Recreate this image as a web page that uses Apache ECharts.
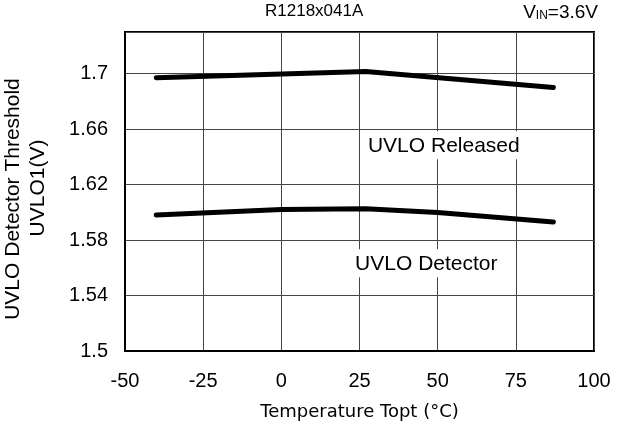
<!DOCTYPE html>
<html>
<head>
<meta charset="utf-8">
<script src="https://cdn.jsdelivr.net/npm/echarts@6/dist/echarts.min.js"></script>
<style>
  html, body { margin: 0; padding: 0; background: #fff; }
  #chart { width: 624px; height: 427px; }
</style>
</head>
<body>
<div id="chart"></div>
<script>
// Threshold voltage vs. ambient temperature
const releasedTemps = [-40, 27, 87];
const releasedValues = [1.697, 1.7015, 1.690];
const detectorTemps = [-40, 0, 27, 50, 87];
const detectorValues = [1.598, 1.602, 1.6025, 1.5998, 1.593];

const xTicks = { min: -50, max: 100, step: 25 };
const yTicks = { min: 1.5, max: 1.73, step: 0.04 };

const seriesNames = ['UVLO Released', 'UVLO Detector'];
const titleText = 'R1218x041A';
const xName = 'Temperature Topt (°C)';
const yNameLines = ['UVLO Detector Threshold', 'UVLO1(V)'];

const FONT = '"Liberation Sans", Arial, sans-serif';

function pairs(xs, ys) { return xs.map((x, i) => [x, ys[i]]); }

const chart = echarts.init(document.getElementById('chart'), null, { renderer: 'canvas' });

const lineStyle = { color: '#000', width: 5, cap: 'round', join: 'round' };

chart.setOption({
  animation: false,
  backgroundColor: '#fff',
  grid: {
    left: 125, right: 30, top: 32, bottom: 76,
    show: true, borderColor: '#000', borderWidth: 2, backgroundColor: 'transparent'
  },
  xAxis: {
    type: 'value', min: xTicks.min, max: xTicks.max, interval: xTicks.step,
    name: xName, nameLocation: 'middle', nameGap: 52,
    nameTextStyle: { fontFamily: '"DejaVu Sans", sans-serif', fontSize: 18, color: '#000' },
    axisLine: { show: true, onZero: false, lineStyle: { color: '#000', width: 2 } },
    axisTick: { show: false },
    axisLabel: { fontFamily: FONT, fontSize: 20, color: '#000', margin: 20 },
    splitLine: { show: true, lineStyle: { color: '#444', width: 1 } }
  },
  yAxis: {
    type: 'value', min: yTicks.min, max: yTicks.max, interval: yTicks.step,
    axisLine: { show: true, onZero: false, lineStyle: { color: '#000', width: 2 } },
    axisTick: { show: false },
    axisLabel: { fontFamily: FONT, fontSize: 20, color: '#000', margin: 17, showMaxLabel: false },
    splitLine: { show: true, lineStyle: { color: '#444', width: 1 } }
  },
  series: [
    {
      name: seriesNames[0], type: 'line', data: pairs(releasedTemps, releasedValues),
      showSymbol: false, symbol: 'none', lineStyle: lineStyle, z: 5
    },
    {
      name: seriesNames[1], type: 'line', data: pairs(detectorTemps, detectorValues),
      showSymbol: false, symbol: 'none', lineStyle: lineStyle, z: 5
    }
  ]
});

// In-plot labels, placed at data coordinates
const labelAnchors = [
  { text: seriesNames[0], at: [27.7, 1.6483] },
  { text: seriesNames[1], at: [23.6, 1.5633] }
];

const graphics = labelAnchors.map(a => {
  const p = chart.convertToPixel({ gridIndex: 0 }, a.at);
  return {
    type: 'text', left: p[0] - 6, top: p[1] - 14, z: 10,
    style: {
      text: a.text, font: '21px ' + FONT, fill: '#000',
      backgroundColor: '#fff', padding: [4, 6, 3, 6]
    }
  };
});

graphics.push(
  {
    type: 'text', left: 265, top: 3,
    style: { text: titleText, font: '17px ' + FONT, fill: '#000' }
  },
  {
    type: 'text', right: 26, top: 3,
    style: {
      text: '{a|V}{b|IN}{a|=3.6V}',
      rich: {
        a: { fontFamily: FONT, fontSize: 19, fill: '#000', color: '#000' },
        b: { fontFamily: FONT, fontSize: 12, fill: '#000', color: '#000', verticalAlign: 'bottom', padding: [6, 0, 0, 0] }
      }
    }
  },
  {
    type: 'text', x: 13, y: 199, rotation: Math.PI / 2,
    style: { text: yNameLines[0], font: '21px ' + FONT, fill: '#000', align: 'center', verticalAlign: 'middle' }
  },
  {
    type: 'text', x: 38, y: 188, rotation: Math.PI / 2,
    style: { text: yNameLines[1], font: '21px ' + FONT, fill: '#000', align: 'center', verticalAlign: 'middle' }
  }
);

chart.setOption({ graphic: graphics });
</script>
</body>
</html>
